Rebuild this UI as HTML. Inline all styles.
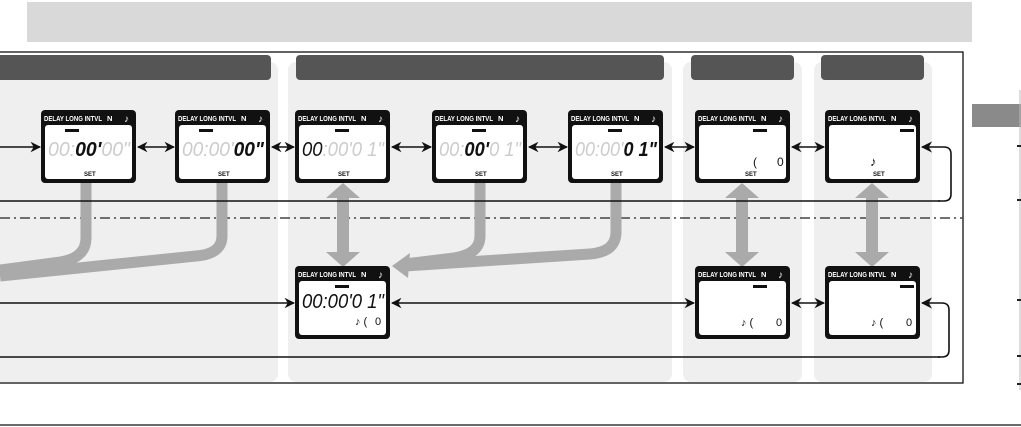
<!DOCTYPE html>
<html><head><meta charset="utf-8"><style>
html,body{margin:0;padding:0;background:#fff;}
svg{display:block;}
text{font-family:"Liberation Sans",sans-serif;}
</style></head><body>
<svg width="1021" height="427" viewBox="0 0 1021 427" xmlns="http://www.w3.org/2000/svg">
<defs>
<marker id="ah" viewBox="0 0 10 10" refX="9" refY="5" markerWidth="7" markerHeight="7" orient="auto-start-reverse"><path d="M0,0 L10,5 L0,10 L3,5 z" fill="#111"/></marker>
<g id="lcd">
  <rect x="0" y="0" width="95" height="73" rx="4" fill="#111"/>
  <rect x="4" y="15" width="87" height="54" rx="3" fill="#fff"/>
  <text x="3" y="11" font-size="7.5" font-weight="bold" font-style="normal" fill="#fff" textLength="58" lengthAdjust="spacingAndGlyphs">DELAY LONG INTVL</text>
  <text x="66" y="11" font-size="7.5" font-weight="bold" font-style="normal" fill="#fff">N</text>
  <text x="83" y="12" font-size="10" font-style="normal" fill="#fff">♪</text>
</g>
</defs>
<rect x="27" y="2" width="945" height="40" fill="#d9d9d9"/>
<rect x="972" y="104" width="49" height="23" fill="#8a8a8a"/>
<line x1="1020" y1="90" x2="1020" y2="390" stroke="#bbb" stroke-width="1"/>
<g stroke="#222" stroke-width="2"><line x1="1017" y1="146" x2="1021" y2="146"/><line x1="1017" y1="200" x2="1021" y2="200"/><line x1="1017" y1="300" x2="1021" y2="300"/><line x1="1017" y1="356" x2="1021" y2="356"/><line x1="1017" y1="384" x2="1021" y2="384"/></g>
<rect x="-10" y="62" width="288" height="320" rx="8" fill="#efefef"/>
<rect x="288" y="62" width="384" height="320" rx="8" fill="#efefef"/>
<rect x="683" y="62" width="119" height="320" rx="8" fill="#efefef"/>
<rect x="814" y="62" width="118" height="320" rx="8" fill="#efefef"/>
<rect x="-1" y="52" width="964" height="331" fill="none" stroke="#111" stroke-width="1.3"/>
<rect x="-10" y="55" width="281" height="25" rx="4" fill="#555"/>
<rect x="296" y="55" width="368" height="25" rx="4" fill="#555"/>
<rect x="691" y="55" width="103" height="25" rx="4" fill="#555"/>
<rect x="821" y="55" width="103" height="25" rx="4" fill="#555"/>
<line x1="0" y1="425" x2="1021" y2="425" stroke="#111" stroke-width="1.3"/>
<line x1="0" y1="218" x2="963" y2="218" stroke="#444" stroke-width="1.5" stroke-dasharray="10,4,2,4"/>
<g fill="none" stroke="#aaa" stroke-width="11">
<path d="M86,182 V238 Q86,258 60,262 L0,270"/>
<path d="M222,182 V236 Q222,254 196,256 L0,276"/>
<path d="M480,182 V236 Q480,254 454,258 L405,264"/>
<path d="M616,182 V232 Q616,252 590,254 L405,266"/>
</g>
<path d="M392,266 L410,253 L408,278 z" fill="#aaa"/>
<g fill="#aaa">
<rect x="337" y="196" width="12" height="58"/><path d="M326,198 L343,183 L360,198z M326,252 L343,267 L360,252z"/>
<rect x="736" y="196" width="12" height="58"/><path d="M725,198 L742,183 L759,198z M725,252 L742,267 L759,252z"/>
<rect x="866" y="196" width="12" height="58"/><path d="M855,198 L872,183 L889,198z M855,252 L872,267 L889,252z"/>
</g>
<line x1="0" y1="201" x2="940" y2="201" stroke="#111" stroke-width="1.6"/>
<path d="M938,201 H944 Q951,201 951,194 V154 Q951,147 944,147 H922" fill="none" stroke="#111" stroke-width="1.6" marker-end="url(#ah)"/>
<line x1="0" y1="357" x2="940" y2="357" stroke="#111" stroke-width="1.6"/>
<path d="M938,357 H942 Q949,357 949,350 V310 Q949,303 942,303 H922" fill="none" stroke="#111" stroke-width="1.6" marker-end="url(#ah)"/>
<g stroke="#111" stroke-width="1.5" marker-end="url(#ah)">
<line x1="0" y1="147" x2="40" y2="147"/>
<line x1="138" y1="147" x2="174" y2="147" marker-start="url(#ah)"/>
<line x1="272" y1="147" x2="294" y2="147" marker-start="url(#ah)"/>
<line x1="392" y1="147" x2="431" y2="147" marker-start="url(#ah)"/>
<line x1="529" y1="147" x2="567" y2="147" marker-start="url(#ah)"/>
<line x1="665" y1="147" x2="694" y2="147" marker-start="url(#ah)"/>
<line x1="792" y1="147" x2="824" y2="147" marker-start="url(#ah)"/>
<line x1="0" y1="303" x2="294" y2="303"/>
<line x1="392" y1="303" x2="694" y2="303" marker-start="url(#ah)"/>
<line x1="792" y1="303" x2="824" y2="303" marker-start="url(#ah)"/>
</g>
<g font-style="italic">
<g transform="translate(41,110)"><use href="#lcd"/><rect x="24" y="19" width="14" height="3" fill="#111"/>
<text x="7" y="46" font-size="20" fill="#ccc" textLength="82" lengthAdjust="spacingAndGlyphs">00:<tspan fill="#111" font-weight="bold">00'</tspan>00"</text><text x="43" y="66" font-size="6" font-weight="bold" fill="#111" font-style="normal">SET</text></g>
<g transform="translate(175,110)"><use href="#lcd"/><rect x="24" y="19" width="14" height="3" fill="#111"/>
<text x="7" y="46" font-size="20" fill="#ccc" textLength="82" lengthAdjust="spacingAndGlyphs">00:00'<tspan fill="#111" font-weight="bold">00"</tspan></text><text x="43" y="66" font-size="6" font-weight="bold" fill="#111" font-style="normal">SET</text></g>
<g transform="translate(295,110)"><use href="#lcd"/><rect x="40" y="19" width="14" height="3" fill="#111"/>
<text x="7" y="46" font-size="20" fill="#ccc" textLength="82" lengthAdjust="spacingAndGlyphs"><tspan fill="#111">00</tspan>:00'0 1"</text><text x="43" y="66" font-size="6" font-weight="bold" fill="#111" font-style="normal">SET</text></g>
<g transform="translate(432,110)"><use href="#lcd"/><rect x="40" y="19" width="14" height="3" fill="#111"/>
<text x="7" y="46" font-size="20" fill="#ccc" textLength="82" lengthAdjust="spacingAndGlyphs">00:<tspan fill="#111" font-weight="bold">00'</tspan>0 1"</text><text x="43" y="66" font-size="6" font-weight="bold" fill="#111" font-style="normal">SET</text></g>
<g transform="translate(568,110)"><use href="#lcd"/><rect x="40" y="19" width="14" height="3" fill="#111"/>
<text x="7" y="46" font-size="20" fill="#ccc" textLength="82" lengthAdjust="spacingAndGlyphs">00:00'<tspan fill="#111" font-weight="bold">0 1"</tspan></text><text x="43" y="66" font-size="6" font-weight="bold" fill="#111" font-style="normal">SET</text></g>
<g transform="translate(695,110)"><use href="#lcd"/><rect x="58" y="19" width="14" height="3" fill="#111"/>
<text x="58" y="56" font-size="12" fill="#111" font-style="normal">(</text><text x="82" y="56" font-size="12" fill="#111" font-style="normal">0</text><text x="50" y="66" font-size="6" font-weight="bold" fill="#111" font-style="normal">SET</text></g>
<g transform="translate(825,110)"><use href="#lcd"/><rect x="75" y="19" width="14" height="3" fill="#111"/>
<text x="45" y="56" font-size="13" fill="#111" font-style="normal">♪</text><text x="48" y="66" font-size="6" font-weight="bold" fill="#111" font-style="normal">SET</text></g>
<g transform="translate(295,266)"><use href="#lcd"/><rect x="40" y="19" width="14" height="3" fill="#111"/>
<text x="7" y="42" font-size="20" fill="#111" textLength="82" lengthAdjust="spacingAndGlyphs">00:00'0 1"</text>
<text x="60" y="59" font-size="11" fill="#111" font-style="normal">♪ (</text><text x="80" y="59" font-size="11" fill="#111" font-style="normal">0</text></g>
<g transform="translate(695,266)"><use href="#lcd"/><rect x="58" y="19" width="14" height="3" fill="#111"/>
<text x="46" y="60" font-size="11" fill="#111" font-style="normal">♪ (</text><text x="81" y="60" font-size="11" fill="#111" font-style="normal">0</text></g>
<g transform="translate(825,266)"><use href="#lcd"/><rect x="75" y="19" width="14" height="3" fill="#111"/>
<text x="46" y="60" font-size="11" fill="#111" font-style="normal">♪ (</text><text x="81" y="60" font-size="11" fill="#111" font-style="normal">0</text></g>
</g>
</svg>
</body></html>
